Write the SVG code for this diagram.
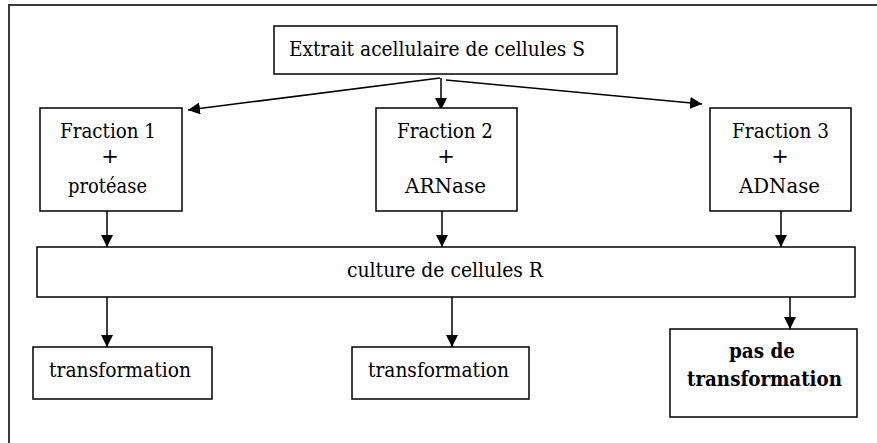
<svg xmlns="http://www.w3.org/2000/svg" width="877" height="443" viewBox="0 0 877 443">
<style>
.box{fill:#fff;stroke:#000;stroke-width:1.5}
.t{font-family:"DejaVu Serif","Liberation Serif","Times New Roman",serif;font-size:21px;fill:#000}
.b{font-weight:bold}
.c{stroke:#000;stroke-width:1.5;fill:none;marker-end:url(#ah)}
</style>
<defs>
<marker id="ah" viewBox="0 0 12 12" refX="12" refY="6" markerWidth="12" markerHeight="12" markerUnits="userSpaceOnUse" orient="auto">
<path d="M0,0 L12,6 L0,12 Z" fill="#000"/>
</marker>
</defs>
<rect x="9" y="5" width="890" height="460" fill="#fff" stroke="#3a3a3a" stroke-width="2"/>
<g id="connectors">
<line class="c" x1="440" y1="78" x2="188" y2="110"/>
<line class="c" x1="441" y1="78" x2="441" y2="110"/>
<line class="c" x1="446" y1="80" x2="702" y2="104"/>
<line class="c" x1="107" y1="211" x2="107" y2="247"/>
<line class="c" x1="442" y1="211" x2="442" y2="247"/>
<line class="c" x1="781" y1="211" x2="781" y2="247"/>
<line class="c" x1="107" y1="297" x2="107" y2="347"/>
<line class="c" x1="452" y1="297" x2="452" y2="347"/>
<line class="c" x1="790" y1="297" x2="790" y2="329"/>
</g>
<g id="extrait">
<rect class="box" x="274" y="26" width="343" height="48"/>
<text class="t" x="289" y="56" textLength="296" lengthAdjust="spacingAndGlyphs">Extrait acellulaire de cellules S</text>
</g>
<g id="fraction1">
<rect class="box" x="40" y="108" width="142" height="103"/>
<text class="t" x="60" y="138" textLength="96" lengthAdjust="spacingAndGlyphs">Fraction 1</text>
<text class="t" x="110" y="163" text-anchor="middle">+</text>
<text class="t" x="68" y="193" textLength="79" lengthAdjust="spacingAndGlyphs">protéase</text>
</g>
<g id="fraction2">
<rect class="box" x="376" y="108" width="141" height="103"/>
<text class="t" x="397" y="138" textLength="96" lengthAdjust="spacingAndGlyphs">Fraction 2</text>
<text class="t" x="446" y="163" text-anchor="middle">+</text>
<text class="t" x="405" y="193" textLength="81" lengthAdjust="spacingAndGlyphs">ARNase</text>
</g>
<g id="fraction3">
<rect class="box" x="710" y="108" width="141" height="103"/>
<text class="t" x="732" y="138" textLength="97" lengthAdjust="spacingAndGlyphs">Fraction 3</text>
<text class="t" x="780" y="163" text-anchor="middle">+</text>
<text class="t" x="739" y="193" textLength="81" lengthAdjust="spacingAndGlyphs">ADNase</text>
</g>
<g id="culture">
<rect class="box" x="37" y="247" width="818" height="50"/>
<text class="t" x="347" y="277" textLength="196" lengthAdjust="spacingAndGlyphs">culture de cellules R</text>
</g>
<g id="transformation1">
<rect class="box" x="33" y="347" width="179" height="52"/>
<text class="t" x="49" y="377" textLength="142" lengthAdjust="spacingAndGlyphs">transformation</text>
</g>
<g id="transformation2">
<rect class="box" x="352" y="347" width="177" height="52"/>
<text class="t" x="368" y="377" textLength="141" lengthAdjust="spacingAndGlyphs">transformation</text>
</g>
<g id="pas-transformation">
<rect class="box" x="670" y="329" width="187" height="88"/>
<text class="t b" x="729" y="358" textLength="66" lengthAdjust="spacingAndGlyphs">pas de</text>
<text class="t b" x="687" y="386" textLength="155" lengthAdjust="spacingAndGlyphs">transformation</text>
</g>
</svg>
